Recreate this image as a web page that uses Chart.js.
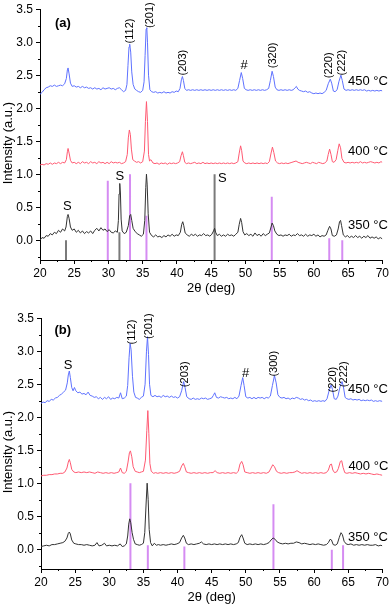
<!DOCTYPE html>
<html>
<head>
<meta charset="utf-8">
<script src="https://cdn.jsdelivr.net/npm/chart.js@4.4.0/dist/chart.umd.min.js"></script>
<style>
  body { margin: 0; background: #fff; }
  .panel { position: absolute; left: 0; width: 391px; height: 298px; }
</style>
</head>
<body>
<div class="panel" style="top:-1px"><canvas id="graficoA"></canvas></div>
<div class="panel" style="top:308px"><canvas id="graficoB"></canvas></div>
<script>
// Ticks de los ejes
const ticksX = [20, 25, 30, 35, 40, 45, 50, 55, 60, 65, 70];
const ticksY = [0, 0.5, 1.0, 1.5, 2.0, 2.5, 3.0, 3.5];

// Panel (a): difractogramas [2theta, intensidad]
const a350 = [[20.0,0.00],[20.3,0.04],[20.6,0.03],[20.9,0.07],[21.2,0.06],[21.5,0.10],[21.8,0.08],[22.1,0.12],[22.4,0.10],[22.7,0.15],[23.0,0.12],[23.3,0.17],[23.6,0.14],[23.8,0.20],[24.0,0.36],[24.1,0.39],[24.25,0.33],[24.45,0.20],[24.7,0.15],[25.0,0.17],[25.3,0.12],[25.6,0.15],[25.9,0.11],[26.2,0.14],[26.5,0.10],[26.8,0.13],[27.1,0.11],[27.4,0.14],[27.7,0.10],[28.0,0.15],[28.3,0.18],[28.6,0.14],[28.9,0.19],[29.2,0.15],[29.5,0.17],[29.8,0.13],[30.1,0.16],[30.4,0.12],[30.7,0.11],[31.0,0.14],[31.3,0.12],[31.45,0.30],[31.55,0.70],[31.65,0.86],[31.75,0.70],[31.85,0.32],[32.0,0.14],[32.3,0.10],[32.6,0.12],[32.9,0.22],[33.1,0.37],[33.25,0.39],[33.4,0.30],[33.6,0.18],[33.9,0.13],[34.2,0.10],[34.5,0.08],[34.8,0.06],[35.1,0.09],[35.3,0.30],[35.45,0.80],[35.55,1.00],[35.65,0.85],[35.8,0.40],[36.0,0.12],[36.3,0.07],[36.6,0.05],[36.9,0.08],[37.2,0.05],[37.5,0.06],[37.8,0.04],[38.1,0.07],[38.4,0.05],[38.7,0.08],[39.0,0.06],[39.3,0.09],[39.6,0.06],[39.9,0.08],[40.2,0.07],[40.5,0.12],[40.7,0.24],[40.85,0.28],[41.0,0.22],[41.2,0.11],[41.5,0.08],[41.8,0.06],[42.1,0.09],[42.4,0.07],[42.7,0.09],[43.0,0.06],[43.3,0.08],[43.6,0.07],[43.9,0.10],[44.2,0.07],[44.5,0.08],[44.8,0.06],[45.1,0.09],[45.35,0.14],[45.5,0.18],[45.65,0.12],[45.9,0.07],[46.2,0.09],[46.5,0.06],[46.8,0.08],[47.1,0.06],[47.4,0.09],[47.7,0.07],[48.0,0.08],[48.3,0.06],[48.6,0.09],[48.9,0.12],[49.1,0.24],[49.3,0.33],[49.45,0.27],[49.65,0.13],[49.9,0.08],[50.2,0.10],[50.5,0.07],[50.8,0.09],[51.1,0.06],[51.4,0.11],[51.7,0.07],[52.0,0.09],[52.3,0.06],[52.6,0.10],[52.9,0.07],[53.2,0.09],[53.5,0.11],[53.75,0.20],[53.9,0.26],[54.1,0.22],[54.3,0.14],[54.6,0.09],[54.9,0.07],[55.2,0.08],[55.5,0.06],[55.8,0.08],[56.1,0.07],[56.4,0.09],[56.7,0.06],[57.0,0.08],[57.3,0.07],[57.6,0.10],[57.9,0.07],[58.2,0.08],[58.5,0.06],[58.8,0.09],[59.1,0.06],[59.4,0.08],[59.7,0.07],[60.0,0.09],[60.3,0.06],[60.6,0.08],[60.9,0.05],[61.2,0.07],[61.5,0.06],[61.8,0.08],[62.05,0.15],[62.3,0.21],[62.5,0.17],[62.7,0.07],[63.0,0.06],[63.3,0.08],[63.55,0.17],[63.75,0.28],[63.9,0.30],[64.05,0.22],[64.3,0.08],[64.6,0.05],[64.9,0.07],[65.2,0.04],[65.5,0.06],[65.8,0.04],[66.1,0.07],[66.4,0.04],[66.7,0.06],[67.0,0.03],[67.3,0.06],[67.6,0.04],[67.9,0.07],[68.2,0.03],[68.5,0.05],[68.8,0.03],[69.1,0.05],[69.4,0.02],[69.7,0.04],[70.0,0.02]];
const a400 = [[20.0,1.14],[20.3,1.15],[20.6,1.14],[20.9,1.16],[21.2,1.15],[21.5,1.17],[21.8,1.15],[22.1,1.17],[22.4,1.16],[22.7,1.18],[23.0,1.16],[23.3,1.18],[23.6,1.17],[23.85,1.22],[24.0,1.34],[24.1,1.39],[24.25,1.32],[24.45,1.21],[24.7,1.17],[25.0,1.18],[25.3,1.16],[25.6,1.18],[25.9,1.16],[26.2,1.19],[26.5,1.17],[26.8,1.18],[27.1,1.16],[27.4,1.19],[27.7,1.17],[28.0,1.18],[28.3,1.16],[28.6,1.19],[28.9,1.17],[29.2,1.18],[29.5,1.16],[29.8,1.18],[30.1,1.16],[30.4,1.19],[30.7,1.17],[31.0,1.18],[31.3,1.17],[31.6,1.18],[31.9,1.16],[32.2,1.17],[32.5,1.19],[32.75,1.30],[32.9,1.55],[33.05,1.67],[33.2,1.60],[33.35,1.38],[33.55,1.22],[33.8,1.20],[34.1,1.18],[34.4,1.19],[34.7,1.17],[35.0,1.19],[35.25,1.35],[35.4,1.80],[35.55,2.10],[35.7,1.80],[35.85,1.30],[36.0,1.20],[36.2,1.22],[36.5,1.17],[36.8,1.16],[37.1,1.17],[37.4,1.15],[37.7,1.17],[38.0,1.16],[38.3,1.17],[38.6,1.15],[38.9,1.17],[39.2,1.16],[39.5,1.17],[39.8,1.16],[40.1,1.17],[40.4,1.19],[40.6,1.28],[40.8,1.34],[40.95,1.28],[41.15,1.18],[41.4,1.16],[41.7,1.17],[42.0,1.16],[42.3,1.17],[42.6,1.18],[42.9,1.16],[43.2,1.17],[43.5,1.16],[43.8,1.18],[44.1,1.16],[44.4,1.17],[44.7,1.16],[45.0,1.17],[45.3,1.16],[45.6,1.17],[45.9,1.16],[46.2,1.17],[46.5,1.16],[46.8,1.17],[47.1,1.16],[47.4,1.17],[47.7,1.16],[48.0,1.17],[48.3,1.16],[48.6,1.17],[48.9,1.19],[49.1,1.32],[49.3,1.43],[49.45,1.36],[49.65,1.20],[49.9,1.17],[50.2,1.16],[50.5,1.17],[50.8,1.16],[51.1,1.17],[51.4,1.16],[51.7,1.17],[52.0,1.16],[52.3,1.17],[52.6,1.16],[52.9,1.17],[53.2,1.16],[53.5,1.19],[53.75,1.32],[53.95,1.41],[54.15,1.33],[54.4,1.20],[54.7,1.17],[55.0,1.16],[55.3,1.17],[55.6,1.16],[55.9,1.17],[56.2,1.16],[56.5,1.17],[56.8,1.18],[57.1,1.19],[57.4,1.20],[57.7,1.18],[58.0,1.17],[58.3,1.16],[58.6,1.17],[58.9,1.18],[59.2,1.17],[59.5,1.16],[59.8,1.18],[60.1,1.17],[60.4,1.16],[60.7,1.18],[61.0,1.17],[61.3,1.16],[61.6,1.17],[61.9,1.20],[62.1,1.30],[62.3,1.38],[62.5,1.30],[62.7,1.19],[62.95,1.18],[63.25,1.22],[63.5,1.36],[63.7,1.46],[63.9,1.40],[64.1,1.24],[64.4,1.18],[64.7,1.17],[65.0,1.18],[65.3,1.17],[65.6,1.18],[65.9,1.17],[66.2,1.18],[66.5,1.17],[66.8,1.19],[67.1,1.17],[67.4,1.18],[67.7,1.17],[68.0,1.18],[68.3,1.19],[68.6,1.18],[68.9,1.17],[69.2,1.18],[69.5,1.17],[69.8,1.19],[70.0,1.18]];
const a450 = [[20.0,2.21],[20.3,2.24],[20.6,2.28],[20.9,2.31],[21.2,2.32],[21.5,2.34],[21.8,2.33],[22.1,2.35],[22.4,2.33],[22.7,2.34],[23.0,2.35],[23.3,2.34],[23.6,2.37],[23.85,2.45],[24.0,2.58],[24.1,2.61],[24.25,2.52],[24.45,2.38],[24.7,2.33],[25.0,2.34],[25.3,2.32],[25.6,2.33],[25.9,2.31],[26.2,2.33],[26.5,2.31],[26.8,2.32],[27.1,2.30],[27.4,2.31],[27.7,2.29],[28.0,2.31],[28.3,2.29],[28.6,2.30],[28.9,2.28],[29.2,2.31],[29.5,2.29],[29.8,2.30],[30.1,2.31],[30.4,2.29],[30.7,2.30],[31.0,2.28],[31.3,2.30],[31.6,2.31],[31.9,2.28],[32.2,2.25],[32.5,2.27],[32.7,2.36],[32.85,2.65],[33.0,2.93],[33.1,2.97],[33.25,2.85],[33.4,2.55],[33.6,2.36],[33.85,2.29],[34.1,2.27],[34.4,2.25],[34.7,2.24],[35.0,2.27],[35.2,2.40],[35.35,2.80],[35.5,3.20],[35.6,3.22],[35.7,3.00],[35.85,2.50],[36.05,2.28],[36.3,2.25],[36.6,2.24],[36.9,2.25],[37.2,2.23],[37.5,2.24],[37.8,2.23],[38.1,2.25],[38.4,2.23],[38.7,2.24],[39.0,2.23],[39.3,2.25],[39.6,2.24],[39.9,2.26],[40.2,2.25],[40.45,2.30],[40.65,2.43],[40.8,2.48],[40.95,2.42],[41.15,2.30],[41.4,2.27],[41.7,2.28],[42.0,2.27],[42.3,2.28],[42.6,2.27],[42.9,2.28],[43.2,2.27],[43.5,2.28],[43.8,2.27],[44.1,2.28],[44.4,2.27],[44.7,2.28],[45.0,2.27],[45.3,2.28],[45.6,2.27],[45.9,2.28],[46.2,2.27],[46.5,2.28],[46.8,2.27],[47.1,2.28],[47.4,2.27],[47.7,2.28],[48.0,2.27],[48.3,2.28],[48.6,2.27],[48.9,2.30],[49.15,2.42],[49.4,2.54],[49.6,2.45],[49.85,2.30],[50.1,2.28],[50.4,2.27],[50.7,2.28],[51.0,2.27],[51.3,2.28],[51.6,2.27],[51.9,2.28],[52.2,2.27],[52.5,2.28],[52.8,2.27],[53.1,2.28],[53.4,2.30],[53.65,2.42],[53.9,2.56],[54.1,2.48],[54.35,2.32],[54.6,2.28],[54.9,2.27],[55.2,2.28],[55.5,2.27],[55.8,2.28],[56.1,2.27],[56.4,2.28],[56.7,2.27],[57.0,2.28],[57.25,2.31],[57.45,2.33],[57.65,2.29],[57.9,2.27],[58.2,2.26],[58.5,2.25],[58.8,2.26],[59.1,2.24],[59.4,2.25],[59.7,2.23],[60.0,2.22],[60.3,2.23],[60.6,2.22],[60.9,2.23],[61.2,2.22],[61.5,2.24],[61.8,2.27],[62.1,2.37],[62.4,2.44],[62.6,2.38],[62.85,2.26],[63.1,2.25],[63.4,2.28],[63.65,2.40],[63.95,2.50],[64.15,2.42],[64.4,2.29],[64.7,2.27],[65.0,2.28],[65.3,2.27],[65.6,2.28],[65.9,2.27],[66.2,2.28],[66.5,2.27],[66.8,2.28],[67.1,2.27],[67.4,2.28],[67.7,2.26],[68.0,2.27],[68.3,2.26],[68.6,2.27],[68.9,2.26],[69.2,2.27],[69.5,2.26],[69.8,2.27],[70.0,2.26]];

// Panel (b)
const b350 = [[20.0,0.04],[20.4,0.05],[20.8,0.06],[21.2,0.05],[21.6,0.07],[22.0,0.07],[22.4,0.08],[22.8,0.09],[23.2,0.10],[23.5,0.12],[23.8,0.17],[24.0,0.24],[24.15,0.26],[24.3,0.23],[24.5,0.14],[24.8,0.09],[25.1,0.08],[25.5,0.07],[25.9,0.07],[26.3,0.06],[26.7,0.07],[27.1,0.06],[27.5,0.05],[27.9,0.06],[28.2,0.10],[28.5,0.05],[28.9,0.06],[29.3,0.09],[29.6,0.05],[30.0,0.06],[30.4,0.05],[30.8,0.06],[31.2,0.05],[31.6,0.08],[31.9,0.04],[32.2,0.05],[32.5,0.08],[32.7,0.20],[32.85,0.38],[33.0,0.46],[33.15,0.40],[33.35,0.25],[33.55,0.15],[33.8,0.08],[34.1,0.07],[34.4,0.06],[34.7,0.07],[35.0,0.09],[35.2,0.25],[35.4,0.70],[35.55,1.00],[35.7,0.75],[35.85,0.30],[36.05,0.10],[36.3,0.05],[36.6,0.09],[36.9,0.06],[37.2,0.07],[37.5,0.06],[37.9,0.07],[38.3,0.06],[38.7,0.07],[39.1,0.08],[39.5,0.07],[39.9,0.08],[40.3,0.10],[40.6,0.17],[40.85,0.21],[41.05,0.17],[41.3,0.09],[41.6,0.07],[42.0,0.08],[42.4,0.07],[42.8,0.08],[43.2,0.09],[43.5,0.11],[43.8,0.08],[44.2,0.07],[44.6,0.08],[45.0,0.07],[45.4,0.08],[45.8,0.07],[46.2,0.08],[46.6,0.07],[47.0,0.08],[47.4,0.07],[47.8,0.08],[48.2,0.07],[48.6,0.08],[48.9,0.10],[49.15,0.18],[49.4,0.22],[49.6,0.17],[49.85,0.09],[50.2,0.07],[50.6,0.08],[51.0,0.07],[51.4,0.08],[51.8,0.07],[52.2,0.08],[52.6,0.07],[53.0,0.08],[53.4,0.10],[53.7,0.14],[54.0,0.17],[54.3,0.15],[54.6,0.11],[55.0,0.09],[55.4,0.08],[55.8,0.09],[56.2,0.08],[56.6,0.09],[57.0,0.09],[57.4,0.11],[57.8,0.10],[58.2,0.08],[58.6,0.09],[59.0,0.08],[59.4,0.07],[59.8,0.08],[60.2,0.07],[60.6,0.08],[61.0,0.07],[61.4,0.06],[61.8,0.07],[62.1,0.10],[62.35,0.15],[62.55,0.14],[62.8,0.07],[63.1,0.06],[63.4,0.08],[63.7,0.18],[63.95,0.25],[64.15,0.22],[64.4,0.12],[64.7,0.08],[65.0,0.07],[65.4,0.08],[65.8,0.06],[66.2,0.07],[66.6,0.06],[67.0,0.07],[67.4,0.06],[67.8,0.07],[68.2,0.06],[68.6,0.06],[69.0,0.07],[69.4,0.05],[69.8,0.06],[70.0,0.05]];
const b400 = [[20.0,1.11],[20.4,1.12],[20.8,1.12],[21.2,1.13],[21.6,1.13],[22.0,1.14],[22.4,1.14],[22.8,1.15],[23.2,1.15],[23.5,1.17],[23.8,1.23],[24.0,1.32],[24.15,1.36],[24.3,1.31],[24.5,1.21],[24.8,1.17],[25.1,1.16],[25.5,1.17],[25.9,1.16],[26.3,1.17],[26.7,1.16],[27.1,1.17],[27.5,1.16],[27.9,1.15],[28.3,1.17],[28.7,1.16],[29.1,1.15],[29.5,1.16],[29.9,1.15],[30.3,1.16],[30.7,1.15],[31.1,1.16],[31.4,1.17],[31.65,1.23],[31.9,1.16],[32.2,1.15],[32.5,1.18],[32.75,1.32],[32.95,1.46],[33.1,1.49],[33.3,1.40],[33.5,1.25],[33.8,1.18],[34.1,1.17],[34.4,1.16],[34.7,1.17],[35.0,1.18],[35.3,1.35],[35.5,1.80],[35.65,2.10],[35.8,1.75],[35.95,1.30],[36.15,1.18],[36.5,1.15],[36.8,1.16],[37.1,1.15],[37.5,1.16],[37.9,1.15],[38.3,1.16],[38.7,1.15],[39.1,1.16],[39.5,1.15],[39.9,1.16],[40.3,1.18],[40.6,1.26],[40.85,1.30],[41.05,1.25],[41.3,1.17],[41.6,1.16],[42.0,1.15],[42.4,1.16],[42.8,1.15],[43.2,1.16],[43.6,1.15],[44.0,1.16],[44.4,1.15],[44.8,1.16],[45.2,1.16],[45.5,1.19],[45.8,1.16],[46.2,1.15],[46.6,1.16],[47.0,1.15],[47.4,1.16],[47.8,1.15],[48.2,1.16],[48.6,1.15],[48.9,1.18],[49.15,1.29],[49.4,1.33],[49.6,1.28],[49.85,1.17],[50.2,1.16],[50.6,1.15],[51.0,1.16],[51.4,1.15],[51.8,1.16],[52.2,1.15],[52.6,1.16],[53.0,1.15],[53.4,1.17],[53.7,1.23],[53.95,1.28],[54.2,1.25],[54.5,1.18],[54.8,1.16],[55.2,1.15],[55.6,1.16],[56.0,1.15],[56.4,1.16],[56.8,1.16],[57.2,1.17],[57.5,1.19],[57.8,1.17],[58.2,1.15],[58.6,1.16],[59.0,1.15],[59.4,1.16],[59.8,1.15],[60.2,1.16],[60.6,1.15],[61.0,1.16],[61.4,1.15],[61.8,1.16],[62.1,1.20],[62.35,1.28],[62.55,1.29],[62.75,1.20],[63.0,1.16],[63.3,1.17],[63.55,1.22],[63.85,1.33],[64.05,1.34],[64.25,1.24],[64.5,1.16],[64.8,1.15],[65.2,1.16],[65.6,1.15],[66.0,1.16],[66.4,1.15],[66.8,1.14],[67.2,1.15],[67.6,1.14],[68.0,1.15],[68.4,1.14],[68.8,1.13],[69.2,1.14],[69.6,1.13],[70.0,1.12]];
const b450 = [[20.0,2.21],[20.3,2.23],[20.6,2.22],[20.9,2.25],[21.2,2.24],[21.5,2.27],[21.8,2.26],[22.1,2.29],[22.4,2.30],[22.7,2.33],[23.0,2.35],[23.3,2.38],[23.6,2.41],[23.85,2.52],[24.0,2.64],[24.15,2.70],[24.3,2.60],[24.5,2.45],[24.7,2.40],[24.9,2.45],[25.1,2.40],[25.4,2.37],[25.7,2.38],[26.0,2.35],[26.3,2.36],[26.6,2.34],[26.9,2.38],[27.2,2.33],[27.5,2.32],[27.8,2.30],[28.1,2.31],[28.4,2.28],[28.7,2.30],[29.0,2.27],[29.3,2.30],[29.6,2.28],[29.9,2.31],[30.2,2.27],[30.5,2.29],[30.8,2.28],[31.1,2.30],[31.4,2.29],[31.65,2.37],[31.9,2.28],[32.2,2.29],[32.5,2.32],[32.7,2.48],[32.9,2.90],[33.05,3.12],[33.2,3.02],[33.4,2.62],[33.6,2.38],[33.85,2.30],[34.1,2.29],[34.4,2.27],[34.7,2.30],[35.0,2.32],[35.25,2.50],[35.45,3.00],[35.6,3.22],[35.75,2.95],[35.9,2.50],[36.1,2.33],[36.4,2.31],[36.7,2.33],[37.0,2.31],[37.3,2.32],[37.6,2.30],[37.9,2.33],[38.2,2.31],[38.5,2.32],[38.8,2.30],[39.1,2.32],[39.4,2.30],[39.7,2.31],[40.0,2.29],[40.3,2.31],[40.6,2.40],[40.9,2.54],[41.1,2.45],[41.35,2.31],[41.7,2.28],[42.0,2.27],[42.3,2.29],[42.6,2.27],[42.9,2.28],[43.2,2.27],[43.5,2.29],[43.8,2.28],[44.1,2.29],[44.4,2.27],[44.7,2.28],[45.0,2.29],[45.25,2.33],[45.45,2.37],[45.7,2.30],[46.0,2.29],[46.3,2.31],[46.6,2.30],[46.9,2.29],[47.2,2.30],[47.5,2.28],[47.8,2.29],[48.1,2.28],[48.4,2.30],[48.7,2.28],[49.0,2.32],[49.3,2.48],[49.55,2.60],[49.75,2.48],[50.0,2.31],[50.3,2.29],[50.6,2.30],[50.9,2.28],[51.2,2.30],[51.5,2.28],[51.8,2.30],[52.1,2.29],[52.4,2.30],[52.7,2.28],[53.0,2.30],[53.3,2.29],[53.6,2.32],[53.9,2.48],[54.2,2.63],[54.45,2.52],[54.7,2.34],[55.0,2.30],[55.3,2.29],[55.6,2.30],[55.9,2.28],[56.2,2.29],[56.5,2.27],[56.8,2.29],[57.1,2.28],[57.4,2.30],[57.7,2.29],[58.0,2.27],[58.3,2.28],[58.6,2.26],[58.9,2.27],[59.2,2.25],[59.5,2.26],[59.8,2.24],[60.1,2.25],[60.4,2.24],[60.7,2.25],[61.0,2.24],[61.3,2.25],[61.6,2.24],[61.9,2.28],[62.2,2.40],[62.5,2.49],[62.7,2.42],[62.95,2.28],[63.25,2.27],[63.5,2.32],[63.8,2.46],[64.1,2.54],[64.3,2.46],[64.55,2.30],[64.8,2.28],[65.1,2.27],[65.4,2.28],[65.7,2.26],[66.0,2.27],[66.3,2.26],[66.6,2.27],[66.9,2.25],[67.2,2.26],[67.5,2.25],[67.8,2.26],[68.1,2.25],[68.4,2.26],[68.7,2.24],[69.0,2.25],[69.3,2.24],[69.6,2.25],[70.0,2.24]];

// Patrones de referencia (posicion 2theta y altura hasta donde llega la linea)
const refGrisA_pos = [23.8, 31.6, 45.5];
const refGrisA_alt = [0.0, 0.12, 1.0];
const refLilaA_pos = [29.9, 33.15, 35.55, 53.85, 62.25, 64.15];
const refLilaA_alt = [0.9, 1.0, 0.37, 0.66, 0.03, 0.0];
const refLilaB_pos = [33.1, 35.65, 41.0, 54.05, 62.6, 64.25];
const refLilaB_alt = [1.0, 0.06, 0.04, 0.68, -0.01, 0.06];

const yMin = -0.3;
const fuente = 'Liberation Sans, Arial, sans-serif';

function aPuntos(pares) {
    return pares.map(p => ({ x: p[0], y: p[1] }));
}

// Cada palito va desde el borde inferior del eje hasta su altura, separados por null
function palitos(posiciones, alturas) {
    const puntos = [];
    posiciones.forEach((x, i) => {
        puntos.push({ x: x, y: yMin }, { x: x, y: alturas[i] }, { x: x, y: null });
    });
    return puntos;
}

function crearGrafico(idCanvas, series, refs, textos, anchoEjeY) {
    const datasets = series.map(s => ({
        data: aPuntos(s.datos),
        borderColor: s.color,
        borderWidth: 1,
        pointRadius: 0,
        tension: 0,
        order: 0
    }));
    refs.forEach(r => datasets.push({
        data: palitos(r.pos, r.alt),
        borderColor: r.color,
        borderWidth: r.ancho,
        borderCapStyle: 'butt',
        pointRadius: 0,
        spanGaps: false,
        order: 1
    }));

    // Ticks menores, titulo del eje Y y rotulos
    const decoracion = {
        id: 'decoracion',
        afterDraw(chart) {
            const ctx = chart.ctx;
            const xs = chart.scales.x, ys = chart.scales.y;
            const area = chart.chartArea;
            ctx.save();
            ctx.strokeStyle = '#000';
            ctx.lineWidth = 1;
            ctx.beginPath();
            for (let v = 22.5; v < 70; v += 5) {
                const px = Math.round(xs.getPixelForValue(v)) + 0.5;
                ctx.moveTo(px, area.bottom);
                ctx.lineTo(px, area.bottom + 2);
            }
            for (let v = -0.25; v < 3.5; v += 0.5) {
                const py = Math.round(ys.getPixelForValue(v)) + 0.5;
                ctx.moveTo(area.left, py);
                ctx.lineTo(area.left - 2, py);
            }
            ctx.stroke();

            ctx.fillStyle = '#000';
            ctx.textAlign = 'center';
            ctx.textBaseline = 'middle';
            ctx.save();
            ctx.translate(8, ys.getPixelForValue(1.47));
            ctx.rotate(-Math.PI / 2);
            ctx.font = '13px ' + fuente;
            ctx.fillText('Intensity (a.u.)', 0, 0);
            ctx.restore();

            textos.forEach(t => {
                ctx.save();
                ctx.translate(xs.getPixelForValue(t.x), ys.getPixelForValue(t.y));
                if (t.rot) ctx.rotate(-Math.PI / 2);
                ctx.font = t.font + ' ' + fuente;
                ctx.fillText(t.txt, 0, 0);
                ctx.restore();
            });
            ctx.restore();
        }
    };

    const ctx = document.getElementById(idCanvas).getContext('2d');
    new Chart(ctx, {
        type: 'line',
        data: { datasets: datasets },
        plugins: [decoracion],
        options: {
            responsive: true,
            maintainAspectRatio: false,
            devicePixelRatio: 1,
            animation: false,
            layout: { padding: { top: 0, right: 8, left: 0, bottom: 0 } },
            plugins: { legend: { display: false }, tooltip: { enabled: false } },
            scales: {
                x: {
                    type: 'linear',
                    min: 20,
                    max: 70,
                    afterBuildTicks: s => { s.ticks = ticksX.map(v => ({ value: v })); },
                    afterFit: s => { s.height = 37; },
                    ticks: { color: '#000', font: { family: fuente, size: 12 }, padding: 2, maxRotation: 0, autoSkip: false },
                    grid: { drawOnChartArea: false, tickLength: 4, color: '#000' },
                    border: { color: '#000', width: 1 },
                    title: { display: true, text: '2θ (deg)', color: '#000', font: { family: fuente, size: 13 }, padding: { top: 0, bottom: 1 } }
                },
                y: {
                    type: 'linear',
                    min: yMin,
                    max: 3.5,
                    afterBuildTicks: s => { s.ticks = ticksY.map(v => ({ value: v })); },
                    afterFit: s => { s.width = anchoEjeY; },
                    ticks: { color: '#000', font: { family: fuente, size: 12 }, padding: 3, callback: v => v.toFixed(1) },
                    grid: { drawOnChartArea: false, tickLength: 4, color: '#000' },
                    border: { color: '#000', width: 1 }
                }
            }
        }
    });
}

const azul = '#5f72ff';
const rojo = '#ff5a72';
const negro = '#333333';
const lila = '#d58cf2';
const gris = '#7a7a7a';

crearGrafico('graficoA',
    [{ datos: a450, color: azul }, { datos: a400, color: rojo }, { datos: a350, color: negro }],
    [{ pos: refLilaA_pos, alt: refLilaA_alt, color: lila, ancho: 2 },
     { pos: refGrisA_pos, alt: refGrisA_alt, color: gris, ancho: 2 }],
    [
        { txt: '(a)', x: 23.34, y: 3.28, font: 'bold 13px' },
        { txt: '(112)', x: 33.2, y: 3.17, rot: true, font: '11px' },
        { txt: '(201)', x: 36.0, y: 3.41, rot: true, font: '11px' },
        { txt: '(203)', x: 40.93, y: 2.69, rot: true, font: '11px' },
        { txt: '#', x: 49.8, y: 2.65, font: '13px' },
        { txt: '(320)', x: 54.0, y: 2.80, rot: true, font: '11px' },
        { txt: '(220)', x: 62.15, y: 2.65, rot: true, font: '11px' },
        { txt: '(222)', x: 64.04, y: 2.69, rot: true, font: '11px' },
        { txt: '450 °C', x: 67.9, y: 2.41, font: '13px' },
        { txt: '400 °C', x: 67.9, y: 1.34, font: '13px' },
        { txt: '350 °C', x: 67.9, y: 0.22, font: '13px' },
        { txt: 'S', x: 24.0, y: 0.51, font: '13px' },
        { txt: 'S', x: 31.67, y: 0.97, font: '13px' },
        { txt: 'S', x: 46.65, y: 0.94, font: '13px' }
    ], 40);

crearGrafico('graficoB',
    [{ datos: b450, color: azul }, { datos: b400, color: rojo }, { datos: b350, color: negro }],
    [{ pos: refLilaB_pos, alt: refLilaB_alt, color: lila, ancho: 2 }],
    [
        { txt: '(b)', x: 23.2, y: 3.32, font: 'bold 13px' },
        { txt: 'S', x: 23.95, y: 2.78, font: '13px' },
        { txt: '(112)', x: 33.3, y: 3.29, rot: true, font: '11px' },
        { txt: '(201)', x: 35.8, y: 3.38, rot: true, font: '11px' },
        { txt: '(203)', x: 41.05, y: 2.65, rot: true, font: '11px' },
        { txt: '#', x: 49.97, y: 2.66, font: '13px' },
        { txt: '(300)', x: 54.2, y: 2.81, rot: true, font: '11px' },
        { txt: '(220)', x: 62.7, y: 2.57, rot: true, font: '11px' },
        { txt: '(222)', x: 64.44, y: 2.65, rot: true, font: '11px' },
        { txt: '450 °C', x: 67.9, y: 2.42, font: '13px' },
        { txt: '400 °C', x: 67.95, y: 1.26, font: '13px' },
        { txt: '350 °C', x: 67.9, y: 0.18, font: '13px' }
    ], 41);
</script>
</body>
</html>
